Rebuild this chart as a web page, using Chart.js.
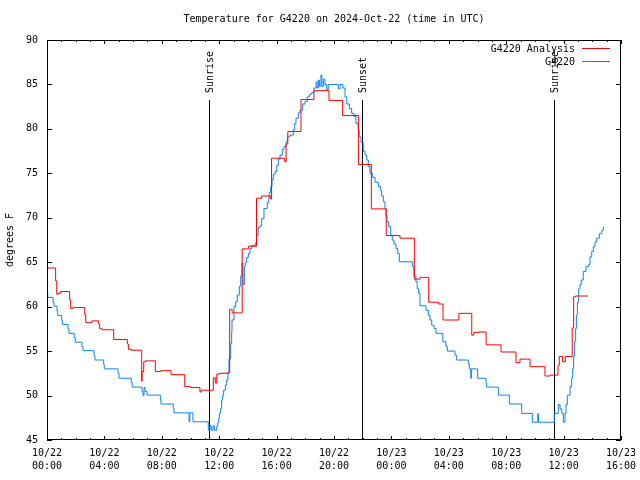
<!DOCTYPE html>
<html>
<head>
<meta charset="utf-8">
<script src="https://cdn.jsdelivr.net/npm/chart.js@4.4.1/dist/chart.umd.min.js"></script>
<style>
  body { margin: 0; background: #fff; }
  #wrap { width: 640px; height: 480px; }
</style>
</head>
<body>
<div id="wrap"><canvas id="myChart" width="640" height="480"></canvas></div>
<script>
// hours since 10/22 00:00 UTC
const analysisHours = [0, 0.6, 0.68, 0.79, 0.95, 1.58, 1.65, 1.81, 2.63, 2.7, 3.12, 3.6, 3.67, 3.85, 4.65, 5.6, 5.67, 5.85,
  6.6, 6.63, 6.74, 6.83, 7.55, 7.94, 8.64, 9.6, 10.0, 10.66, 10.75, 11.59, 11.73, 11.83, 12.0, 12.6, 12.73, 12.87, 12.9,
  13.6, 14.05, 14.6, 14.96, 15.59, 15.65, 16.57, 16.66, 16.78, 17.7, 18.6, 19.65, 20.6, 21.7, 22.6, 23.64, 24.6, 25.6, 26.0,
  26.6, 27.3, 27.6, 28.7, 29.6, 29.74, 30.1, 30.6, 31.64, 32.68, 32.96, 33.66, 34.7, 35.05, 35.61, 35.7, 35.93, 36.12,
  36.6, 36.7, 36.82, 37.7];
const analysisTemps = [64.35, 62.9, 61.4, 61.5, 61.7, 60.75, 59.8, 59.9, 59.1, 58.2, 58.4, 58.0, 57.5, 57.4, 56.3, 55.8, 55.2, 55.1,
  51.6, 52.7, 53.8, 53.9, 52.7, 52.8, 52.35, 51.0, 50.9, 50.4, 50.6, 52.0, 51.4, 52.4, 52.5, 52.6, 59.7, 59.7, 59.3,
  66.5, 66.8, 72.2, 72.45, 72.1, 76.7, 76.3, 78.3, 79.7, 83.3, 84.3, 83.2, 81.5, 76.0, 71.0, 68.0, 67.7, 63.1, 63.3,
  60.5, 60.3, 58.5, 59.25, 56.8, 57.1, 57.15, 55.7, 54.9, 53.7, 54.1, 53.25, 52.2, 52.3, 53.4, 54.4, 53.8, 54.4,
  57.6, 61.1, 61.2, 61.2];

const obsHours = [0, 0.05, 0.42, 0.49, 0.7, 0.75, 1.02, 1.07, 1.46, 1.53, 1.9, 1.97, 2.44, 2.51, 3.28, 3.34, 3.95, 3.99,
  4.95, 5.02, 5.87, 5.94, 6.62, 6.69, 6.76, 6.83, 6.97, 7.9, 7.94, 8.8, 8.85, 9.9, 9.95, 10.17, 11.24, 11.36, 11.45,
  11.57, 11.66, 11.83, 11.9, 11.97, 12.01, 12.1, 12.17, 12.24, 12.31, 12.43, 12.52, 12.61, 12.68, 12.8, 12.87, 12.89,
  13.03, 13.15, 13.26, 13.4, 13.5, 13.59, 13.66, 13.75, 13.82, 13.92, 14.03, 14.15, 14.27, 14.54, 14.61, 14.72, 14.84,
  14.96, 15.12, 15.35, 15.45, 15.49, 15.59, 15.68, 15.77, 15.89, 16.01, 16.12, 16.24, 16.4, 16.52, 16.66, 16.77, 16.93,
  17.16, 17.26, 17.35, 17.51, 17.63, 17.82, 17.98, 18.14, 18.28, 18.45, 18.61, 18.75, 18.82, 18.91, 18.98, 19.09, 19.16,
  19.26, 19.37, 19.49, 19.6, 20.3, 20.42, 20.61, 20.77, 20.89, 21.07, 21.23, 21.39, 21.53, 21.69, 21.76, 21.88, 22.04,
  22.16, 22.28, 22.39, 22.51, 22.67, 22.86, 23.09, 23.25, 23.32, 23.44, 23.55, 23.62, 23.69, 23.81, 23.95, 24.06, 24.18,
  24.32, 24.44, 24.55, 25.48, 25.57, 25.71, 25.8, 25.9, 25.99, 26.41, 26.57, 26.69, 26.81, 26.97, 27.11, 27.58, 27.8,
  27.9, 28.43, 28.55, 29.36, 29.43, 29.53, 29.57, 30.01, 30.59, 30.64, 31.45, 32.22, 33.08, 33.82, 34.2, 34.25, 35.35,
  35.63, 35.75, 35.87, 35.98, 36.1, 36.17, 36.26, 36.45, 36.56, 36.63, 36.7, 36.77, 36.84, 36.89, 36.96, 37.05, 37.14,
  37.23, 37.37, 37.56, 37.75, 37.84, 37.96, 38.07, 38.19, 38.31, 38.49, 38.66, 38.77];
const obsTemps = [61.6, 61.05, 60.5, 60.05, 59.5, 59.0, 58.5, 58.0, 57.5, 57.0, 56.5, 56.0, 55.5, 55.05, 54.5, 54.0, 53.5, 53.0,
  52.5, 51.95, 51.45, 50.95, 50.45, 50.0, 50.9, 50.45, 50.05, 49.5, 49.05, 48.55, 48.05, 47.05, 48.05, 47.05, 46.1, 46.6, 46.1,
  46.6, 46.1, 46.5, 46.95, 47.45, 48.0, 48.55, 49.5, 50.05, 50.6, 51.2, 51.75, 52.5, 54.1, 55.9, 57.2, 58.5,
  60.0, 60.55, 61.3, 62.3, 63.45, 64.9, 62.5, 64.5, 64.95, 65.55, 66.0, 66.55, 66.9, 67.2, 68.05, 68.9, 69.1,
  69.9, 71.05, 71.7, 72.2, 72.85, 73.5, 74.3, 74.9, 75.2, 75.9, 76.6, 77.05, 77.7, 78.0, 78.6, 79.1, 79.3,
  79.95, 80.6, 81.2, 81.8, 82.1, 82.8, 83.1, 83.6, 83.9, 84.1, 84.6, 85.3, 84.6, 85.5, 84.8, 86.05, 84.8,
  85.6, 85.0, 84.4, 85.0, 84.5, 85.0, 84.6, 83.6, 82.8, 82.3, 81.75, 81.4, 80.6, 79.9, 79.1, 78.5, 77.5,
  77.05, 76.5, 75.75, 75.0, 74.55, 74.0, 73.5, 73.05, 72.45, 71.8, 71.05, 70.3, 69.55, 69.0, 68.05, 67.5, 67.05,
  66.55, 66.0, 65.05, 64.5, 63.45, 62.8, 62.05, 61.5, 60.1, 59.6, 59.05, 58.5, 57.9, 57.55, 57.0, 56.05, 55.5,
  55.0, 54.55, 54.0, 53.55, 53.0, 51.95, 53.0, 51.95, 51.45, 50.95, 50.05, 49.05, 48.0, 47.0, 47.95, 47.0, 48.0,
  49.0, 48.5, 48.0, 47.0, 48.0, 49.0, 50.05, 51.0, 51.95, 53.0, 54.4, 56.05, 57.55, 59.05, 60.5, 62.0, 62.5,
  63.0, 63.95, 64.5, 64.75, 65.6, 66.2, 66.75, 67.3, 67.7, 68.2, 68.6, 69.0];

const tickDays = ['10/22', '10/22', '10/22', '10/22', '10/22', '10/22', '10/23', '10/23', '10/23', '10/23', '10/23'];
const tickTimes = ['00:00', '04:00', '08:00', '12:00', '16:00', '20:00', '00:00', '04:00', '08:00', '12:00', '16:00'];

const eventHours = [11.31, 21.97, 35.35];
const eventNames = ['Sunrise', 'Sunset', 'Sunrise'];

const FONT = '10px "DejaVu Sans Mono", monospace';
const RED = '#ff0000';
const BLUE = '#0a84f0';

function toPoints(xs, ys) {
  return xs.map((h, i) => ({ x: h, y: ys[i] }));
}

const decor = {
  id: 'decor',
  beforeDatasetsDraw(chart) {
    const { ctx, chartArea: a, scales: { x } } = chart;
    ctx.save();
    ctx.strokeStyle = '#000';
    ctx.lineWidth = 1;
    ctx.fillStyle = '#000';
    ctx.font = FONT;
    eventHours.forEach((h, i) => {
      const px = Math.round(x.getPixelForValue(h)) + 0.5;
      ctx.beginPath();
      ctx.moveTo(px, 100);
      ctx.lineTo(px, a.bottom);
      ctx.stroke();
      ctx.save();
      ctx.translate(px + 1, 93);
      ctx.rotate(-Math.PI / 2);
      ctx.textAlign = 'left';
      ctx.textBaseline = 'middle';
      ctx.fillText(eventNames[i], 0, 0);
      ctx.restore();
    });
    ctx.restore();
  },
  afterDraw(chart) {
    const { ctx, chartArea: a, scales: { x, y } } = chart;
    ctx.save();
    ctx.strokeStyle = '#000';
    ctx.lineWidth = 1;
    // frame
    ctx.strokeRect(a.left + 0.5, a.top + 0.5, a.right - a.left - 1, a.bottom - a.top - 1);
    // ticks, inward
    ctx.beginPath();
    for (let v = 45; v <= 90; v += 5) {
      const py = Math.round(y.getPixelForValue(v)) + 0.5;
      ctx.moveTo(a.left, py); ctx.lineTo(a.left + 5, py);
      ctx.moveTo(a.right, py); ctx.lineTo(a.right - 5, py);
    }
    for (let h = 0; h <= 40; h++) {
      const px = Math.round(x.getPixelForValue(h)) + 0.5;
      const len = h % 4 === 0 ? 4 : 2;
      ctx.moveTo(px, a.bottom); ctx.lineTo(px, a.bottom - len);
      ctx.moveTo(px, a.top); ctx.lineTo(px, a.top + len);
    }
    ctx.stroke();

    ctx.fillStyle = '#000';
    ctx.font = FONT;
    // title
    ctx.textAlign = 'center';
    ctx.textBaseline = 'middle';
    ctx.fillText('Temperature for G4220 on 2024-Oct-22 (time in UTC)', (a.left + a.right) / 2, 19);
    // y axis label
    ctx.save();
    ctx.translate(10, (a.top + a.bottom) / 2);
    ctx.rotate(-Math.PI / 2);
    ctx.fillText('degrees F', 0, 0);
    ctx.restore();
    // legend
    const names = chart.data.datasets.map(d => d.label);
    const colors = chart.data.datasets.map(d => d.borderColor);
    names.forEach((n, i) => {
      const ly = 49 + i * 13;
      ctx.textAlign = 'right';
      ctx.fillStyle = '#000';
      ctx.fillText(n, 575, ly);
      ctx.strokeStyle = colors[i];
      ctx.beginPath();
      ctx.moveTo(582, ly - 0.5);
      ctx.lineTo(610, ly - 0.5);
      ctx.stroke();
    });
    ctx.restore();
  }
};

try {
  const ctx = document.getElementById('myChart');
  new Chart(ctx, {
    type: 'line',
    data: {
      datasets: [
        {
          label: 'G4220 Analysis',
          data: toPoints(analysisHours, analysisTemps),
          borderColor: RED,
          borderWidth: 1,
          pointRadius: 0,
          stepped: true,
          fill: false
        },
        {
          label: 'G4220',
          data: toPoints(obsHours, obsTemps),
          borderColor: BLUE,
          borderWidth: 1,
          pointRadius: 0,
          stepped: true,
          fill: false
        }
      ]
    },
    options: {
      responsive: false,
      animation: false,
      devicePixelRatio: 1,
      layout: { padding: { top: 40, right: 19, left: 0, bottom: 0 } },
      plugins: {
        legend: { display: false },
        title: { display: false },
        tooltip: { enabled: false }
      },
      scales: {
        x: {
          type: 'linear',
          min: 0,
          max: 40,
          grid: { display: false, drawTicks: false },
          border: { display: false },
          ticks: {
            stepSize: 4,
            maxRotation: 0,
            autoSkip: false,
            padding: 7,
            color: '#000',
            font: { family: '"DejaVu Sans Mono", monospace', size: 10, lineHeight: 1.3 },
            callback: (v) => {
              const i = Math.round(v / 4);
              return [tickDays[i], tickTimes[i]];
            }
          },
          afterFit: (s) => { s.height = 40; s.paddingLeft = 0; s.paddingRight = 0; }
        },
        y: {
          min: 45,
          max: 90,
          grid: { display: false, drawTicks: false },
          border: { display: false },
          ticks: {
            stepSize: 5,
            padding: 9,
            color: '#000',
            font: { family: '"DejaVu Sans Mono", monospace', size: 10 }
          },
          afterFit: (s) => { s.width = 47; s.paddingTop = 0; s.paddingBottom = 0; }
        }
      }
    },
    plugins: [decor]
  });
} catch (error) {
  console.log(error);
}
</script>
</body>
</html>
